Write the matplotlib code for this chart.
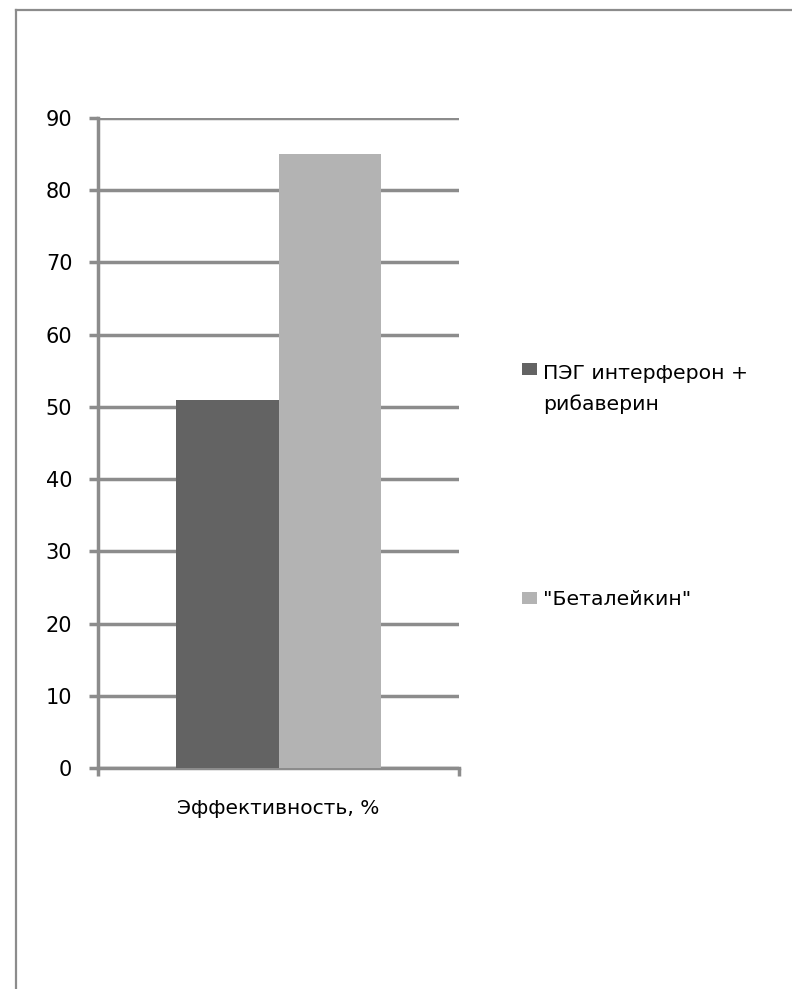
import matplotlib
matplotlib.use("Agg")
import matplotlib.pyplot as plt
from matplotlib.lines import Line2D
from matplotlib.patches import Rectangle
from matplotlib.legend_handler import HandlerPatch, update_from_first_child

plt.rcParams['font.family'] = ['DejaVu Sans']

category = "Эффективность, %"
series_names = ["ПЭГ интерферон +\nрибаверин", '"Беталейкин"']
values = [51, 85]
colors = ["#636363", "#b3b3b3"]
yticks = [0, 10, 20, 30, 40, 50, 60, 70, 80, 90]

grid_c = "#8c8c8c"
leg_fs = 14.7
leg_ls = 1.75

fig = plt.figure(figsize=(7.92, 9.89), dpi=100)
ax = fig.add_axes([98/792, 1-768/989, (459-98)/792, (768-118)/989])

bw = 0.285
offsets = [-bw/2, bw/2]
bars = []
for name, v, c, o in zip(series_names, values, colors, offsets):
    b = ax.bar(o, v, width=bw, color=c, label=name, zorder=3)
    bars.append(b)

ax.set_xlim(-0.5, 0.5)
ax.set_ylim(0, 90)
ax.set_yticks(yticks)
ax.yaxis.grid(True, color=grid_c, linewidth=2.5, zorder=0)
ax.set_axisbelow(True)
for s in ["top", "right"]:
    ax.spines[s].set_visible(False)
for s in ["left", "bottom"]:
    ax.spines[s].set_color(grid_c)
    ax.spines[s].set_linewidth(2.5)
ax.tick_params(axis='y', length=6.5, width=2.5, color=grid_c, labelsize=15, pad=12)
ax.set_xticks([-0.5, 0.5])
ax.set_xticklabels(["", ""])
ax.tick_params(axis='x', which='major', length=6, width=2.5, color=grid_c)
ax.set_xticks([0], minor=True)
ax.set_xticklabels([category], minor=True)
ax.tick_params(axis='x', which='minor', length=0, labelsize=14.5, pad=22)


def make_patch_func(nlines):
    def f(legend, orig_handle, xdescent, ydescent, width, height, fontsize):
        shift = 0.5 * (nlines - 1) * leg_ls * fontsize * 1.16
        return Rectangle((-xdescent, -ydescent + shift), width, height)
    return f


hmap = {b: HandlerPatch(patch_func=make_patch_func(n.count("\n") + 1),
                        update_func=update_from_first_child)
        for b, n in zip(bars, series_names)}

leg = ax.legend(loc='upper left', bbox_to_anchor=(1.123, 0.650), frameon=False,
                fontsize=leg_fs, handlelength=0.73, handleheight=0.54, handletextpad=0.3,
                labelspacing=8.6, handler_map=hmap)
for t in leg.get_texts():
    t.set_linespacing(leg_ls)

# outer frame (left and top edges)
fig.add_artist(Line2D([16/792, 16/792], [0, 1-10/989], transform=fig.transFigure,
                      color=grid_c, linewidth=1.6))
fig.add_artist(Line2D([16/792, 1], [1-10/989, 1-10/989], transform=fig.transFigure,
                      color=grid_c, linewidth=1.6))

fig.savefig("out.png", dpi=100)
